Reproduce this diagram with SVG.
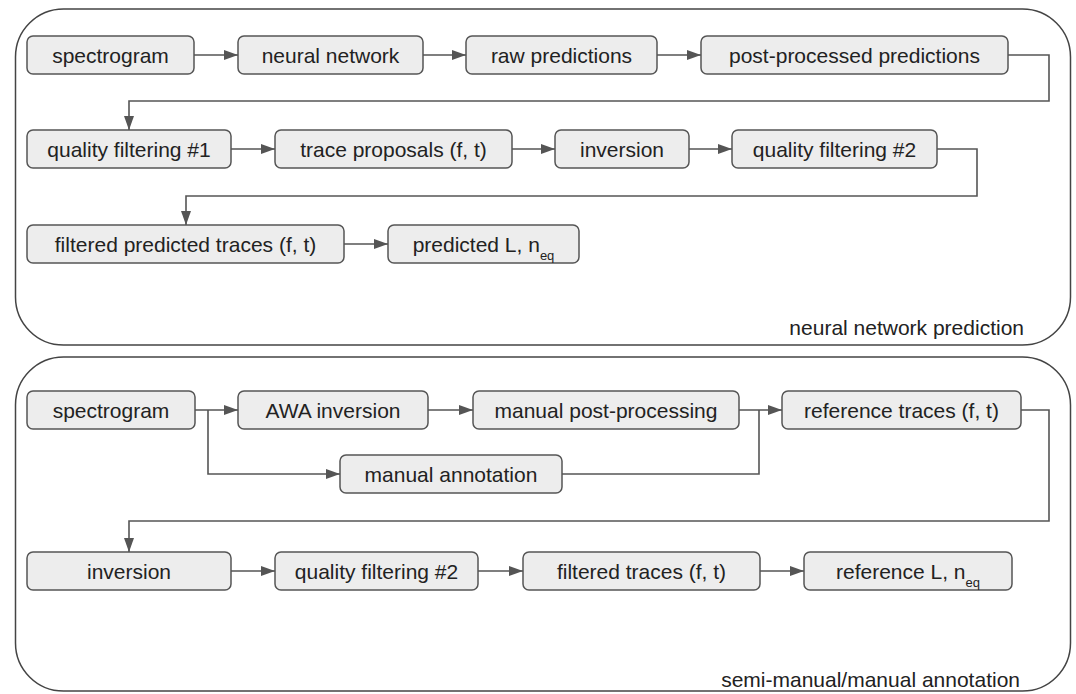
<svg xmlns="http://www.w3.org/2000/svg" width="1076" height="694" viewBox="0 0 1076 694">
<style>
.panel{fill:#ffffff;stroke:#444444;stroke-width:1.5}
.node rect{fill:#ededed;stroke:#555555;stroke-width:1.5}
text{font-family:"Liberation Sans",Arial,sans-serif;font-size:21px;fill:#222222}
.node text{text-anchor:middle}
.lbl{text-anchor:end}
.conn{fill:none;stroke:#555555;stroke-width:1.6}
.sub{font-size:13px}
</style>
<defs>
<marker id="arr" viewBox="0 0 14 10" refX="14" refY="5" markerWidth="14" markerHeight="10" markerUnits="userSpaceOnUse" orient="auto">
<path d="M0,0 L14,5 L0,10 Z" fill="#555555"/>
</marker>
</defs>
<rect width="1076" height="694" fill="#ffffff"/>
<g id="panel-prediction">
<rect class="panel" x="15.5" y="9" width="1055" height="336" rx="48"/>
<text class="lbl" x="1024" y="335">neural network prediction</text>
</g>
<g id="panel-annotation">
<rect class="panel" x="15.5" y="357" width="1055" height="334" rx="48"/>
<text class="lbl" x="1020" y="687">semi-manual/manual annotation</text>
</g>
<g id="connectors">
<path class="conn" marker-end="url(#arr)" d="M194,55 H238"/>
<path class="conn" marker-end="url(#arr)" d="M423,55 H466"/>
<path class="conn" marker-end="url(#arr)" d="M657,55 H701"/>
<path class="conn" marker-end="url(#arr)" d="M1008,55 H1049 V101 H129 V130"/>
<path class="conn" marker-end="url(#arr)" d="M231,149 H275"/>
<path class="conn" marker-end="url(#arr)" d="M512,149 H555"/>
<path class="conn" marker-end="url(#arr)" d="M689,149 H732"/>
<path class="conn" marker-end="url(#arr)" d="M937,149 H977 V196 H186 V225"/>
<path class="conn" marker-end="url(#arr)" d="M344,244 H388"/>
<path class="conn" marker-end="url(#arr)" d="M195,410 H238"/>
<path class="conn" marker-end="url(#arr)" d="M208,410 V474 H340"/>
<path class="conn" marker-end="url(#arr)" d="M428,410 H473"/>
<path class="conn" marker-end="url(#arr)" d="M739,410 H782"/>
<path class="conn" d="M562,474 H759 V410"/>
<path class="conn" marker-end="url(#arr)" d="M1021,410 H1049 V521 H129 V552"/>
<path class="conn" marker-end="url(#arr)" d="M231,571 H275"/>
<path class="conn" marker-end="url(#arr)" d="M478,571 H523"/>
<path class="conn" marker-end="url(#arr)" d="M760,571 H804"/>
</g>
<g id="n-spectrogram" class="node"><rect x="27" y="36" width="167" height="38" rx="6"/><text x="110.5" y="62.5">spectrogram</text></g>
<g id="n-neural-network" class="node"><rect x="238" y="36" width="185" height="38" rx="6"/><text x="330.5" y="62.5">neural network</text></g>
<g id="n-raw-predictions" class="node"><rect x="466" y="36" width="191" height="38" rx="6"/><text x="561.5" y="62.5">raw predictions</text></g>
<g id="n-post-processed" class="node"><rect x="701" y="36" width="307" height="38" rx="6"/><text x="854.5" y="62.5">post-processed predictions</text></g>
<g id="n-quality-1" class="node"><rect x="27" y="130" width="204" height="38" rx="6"/><text x="129" y="156.5">quality filtering #1</text></g>
<g id="n-trace-proposals" class="node"><rect x="275" y="130" width="237" height="38" rx="6"/><text x="393.5" y="156.5">trace proposals (f, t)</text></g>
<g id="n-inversion-1" class="node"><rect x="555" y="130" width="134" height="38" rx="6"/><text x="622" y="156.5">inversion</text></g>
<g id="n-quality-2a" class="node"><rect x="732" y="130" width="205" height="38" rx="6"/><text x="834.5" y="156.5">quality filtering #2</text></g>
<g id="n-filtered-predicted" class="node"><rect x="27" y="225" width="317" height="38" rx="6"/><text x="185.5" y="251.5">filtered predicted traces (f, t)</text></g>
<g id="n-predicted-L" class="node"><rect x="388" y="225" width="191" height="38" rx="6"/><text x="483.5" y="251.5">predicted L, n<tspan class="sub" dy="8">eq</tspan></text></g>
<g id="n-spectrogram-2" class="node"><rect x="27" y="391" width="168" height="38" rx="6"/><text x="111" y="417.5">spectrogram</text></g>
<g id="n-awa-inversion" class="node"><rect x="238" y="391" width="190" height="38" rx="6"/><text x="333" y="417.5">AWA inversion</text></g>
<g id="n-manual-post" class="node"><rect x="473" y="391" width="266" height="38" rx="6"/><text x="606" y="417.5">manual post-processing</text></g>
<g id="n-reference-traces" class="node"><rect x="782" y="391" width="239" height="38" rx="6"/><text x="901.5" y="417.5">reference traces (f, t)</text></g>
<g id="n-manual-annotation" class="node"><rect x="340" y="455" width="222" height="38" rx="6"/><text x="451" y="481.5">manual annotation</text></g>
<g id="n-inversion-2" class="node"><rect x="27" y="552" width="204" height="38" rx="6"/><text x="129" y="578.5">inversion</text></g>
<g id="n-quality-2b" class="node"><rect x="275" y="552" width="203" height="38" rx="6"/><text x="376.5" y="578.5">quality filtering #2</text></g>
<g id="n-filtered-traces" class="node"><rect x="523" y="552" width="237" height="38" rx="6"/><text x="641.5" y="578.5">filtered traces (f, t)</text></g>
<g id="n-reference-L" class="node"><rect x="804" y="552" width="208" height="38" rx="6"/><text x="908" y="578.5">reference L, n<tspan class="sub" dy="8">eq</tspan></text></g>
</svg>
